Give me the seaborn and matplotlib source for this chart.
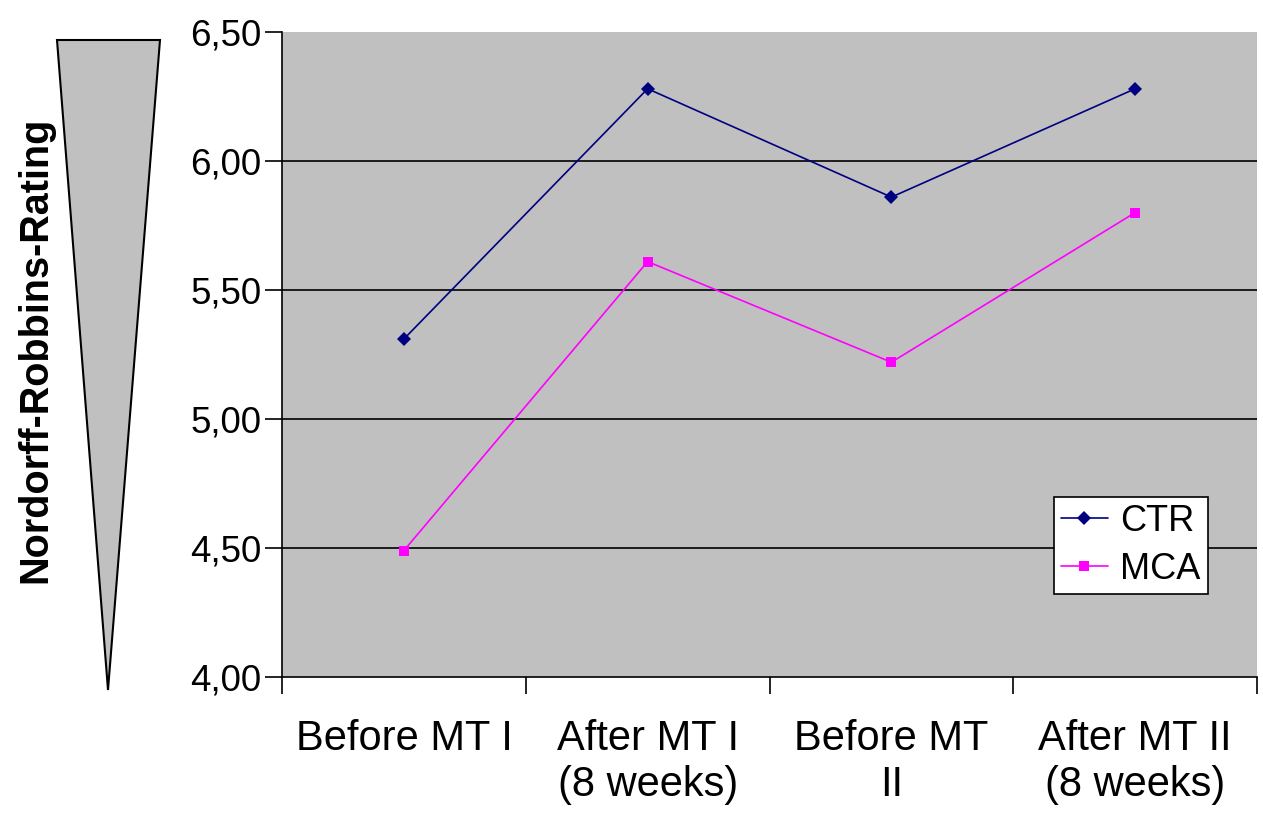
import numpy as np
import matplotlib
matplotlib.use('Agg')
import matplotlib.pyplot as plt
from matplotlib.patches import Polygon
from matplotlib.ticker import FixedLocator, FuncFormatter
import seaborn as sns
import pandas as pd

stages = ['Before MT I', 'After MT I\n(8 weeks)', 'Before MT\nII', 'After MT II\n(8 weeks)']
ctr = [5.31, 6.28, 5.86, 6.28]
mca = [4.49, 5.61, 5.22, 5.80]
y_ticks = [4.0, 4.5, 5.0, 5.5, 6.0, 6.5]

sns.set_style('white')
plt.rcParams['font.family'] = ['Liberation Sans', 'DejaVu Sans']
plt.rcParams['text.color'] = 'black'
plt.rcParams['xtick.color'] = 'black'
plt.rcParams['ytick.color'] = 'black'

df = pd.DataFrame({
    'stage': list(range(len(stages))) * 2,
    'rating': ctr + mca,
    'group': ['CTR'] * 4 + ['MCA'] * 4,
})

fig = plt.figure(figsize=(12.63, 8.17), dpi=100)
ax = fig.add_axes([282 / 1263, 1 - 677 / 817, 975 / 1263, 645 / 817])
ax.set_facecolor('#C0C0C0')

sns.lineplot(data=df, x='stage', y='rating', hue='group', style='group',
             palette={'CTR': '#000080', 'MCA': '#FF00FF'},
             markers={'CTR': 'D', 'MCA': 's'}, dashes=False,
             markersize=7, markeredgewidth=0, lw=1.2, ax=ax)

ax.set_xlim(-0.5, 3.5)
ax.set_ylim(4.0, 6.5)

for y in y_ticks[1:-1]:
    ax.axhline(y, color='black', lw=1.2, zorder=1)

ax.yaxis.set_major_locator(FixedLocator(y_ticks))
ax.yaxis.set_major_formatter(FuncFormatter(lambda v, p: f'{v:.2f}'.replace('.', ',')))
ax.set_xticks(range(len(stages)))
ax.set_xticklabels(stages, linespacing=1.22)
ax.set_xticks(np.arange(-0.5, 4.0, 1.0), minor=True)
ax.tick_params(axis='x', which='major', length=0, pad=30, labelsize=30, labelcolor='black')
ax.tick_params(axis='x', which='minor', length=12, width=1.2, color='black', direction='out')
ax.tick_params(axis='y', length=12, width=1.2, color='black', direction='out', pad=3,
               labelsize=26.5, labelcolor='black')
ax.tick_params(bottom=True, left=True, which='both')

ax.spines['top'].set_visible(False)
ax.spines['right'].set_visible(False)
for s in ['bottom', 'left']:
    ax.spines[s].set_color('black')
    ax.spines[s].set_linewidth(1.2)

ax.set_xlabel('')
ax.set_ylabel('')

leg = ax.legend(loc='lower right', bbox_to_anchor=(0.9497, 0.1287), fontsize=26,
                frameon=True, fancybox=False, framealpha=1, edgecolor='black',
                handlelength=1.3, handletextpad=0.35, borderpad=0.2, labelspacing=0.35,
                borderaxespad=0)
leg.get_frame().set_linewidth(1.2)
for t in leg.get_texts():
    t.set_color('black')

# decorative wedge on the left
wedge = Polygon([(57 / 1263, 1 - 40 / 817), (160 / 1263, 1 - 40 / 817), (108 / 1263, 1 - 690 / 817)],
                closed=True, facecolor='#C0C0C0', edgecolor='black', lw=1.5,
                transform=fig.transFigure)
fig.add_artist(wedge)

fig.text(35 / 1263, 1 - 350 / 817, 'Nordorff-Robbins-Rating', rotation=90,
         ha='center', va='center', fontsize=28.5, fontweight='bold', color='black')

fig.savefig('out.png', dpi=100, facecolor='white')
